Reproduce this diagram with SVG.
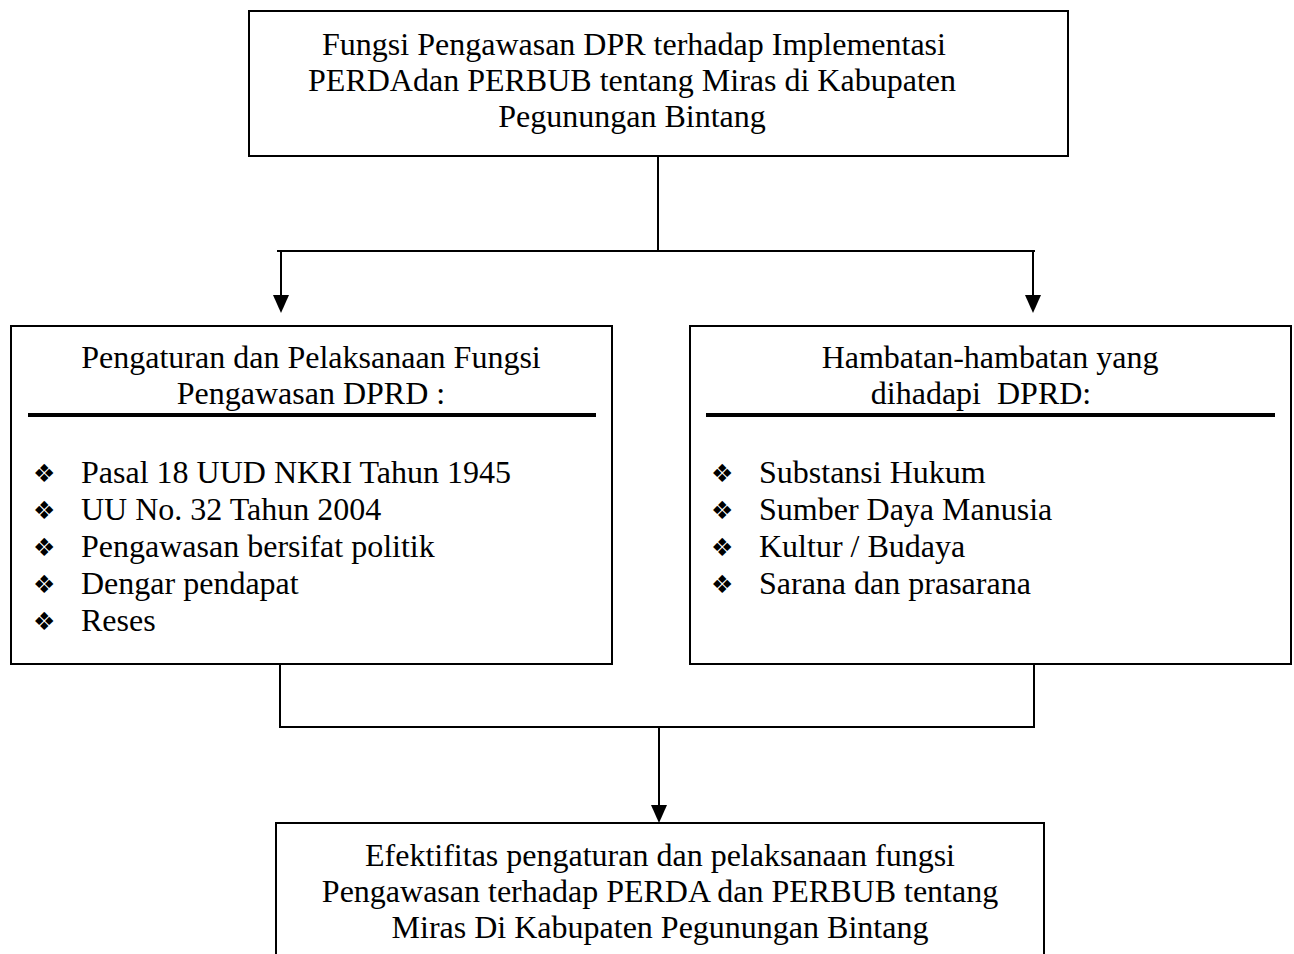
<svg xmlns="http://www.w3.org/2000/svg" width="1294" height="954" viewBox="0 0 1294 954">
<style>
.box{fill:#fff;stroke:#000;stroke-width:2}
.t{font-family:"Liberation Serif","Times New Roman",serif;font-size:32px;fill:#000}
.c{text-anchor:middle}
.b{font-family:"DejaVu Sans",sans-serif;font-size:25px;fill:#000}
.ln{stroke:#000;stroke-width:2;fill:none}
.ul{stroke:#000;stroke-width:4}
</style>
<rect width="1294" height="954" fill="#fff"/>
<g id="connectors">
<line class="ln" x1="658" y1="156" x2="658" y2="251"/>
<line class="ln" x1="277" y1="251" x2="1035" y2="251"/>
<line class="ln" x1="281" y1="251" x2="281" y2="295"/>
<path d="M273,295 L289,295 L281,313 Z" fill="#000"/>
<line class="ln" x1="1033" y1="251" x2="1033" y2="295"/>
<path d="M1025,295 L1041,295 L1033,313 Z" fill="#000"/>
<line class="ln" x1="280" y1="665" x2="280" y2="727"/>
<line class="ln" x1="1034" y1="665" x2="1034" y2="727"/>
<line class="ln" x1="279" y1="727" x2="1035" y2="727"/>
<line class="ln" x1="659" y1="727" x2="659" y2="805"/>
<path d="M651,805 L667,805 L659,823 Z" fill="#000"/>
</g>
<g id="top">
<rect class="box" x="249" y="11" width="819" height="145"/>
<text class="t c" x="634" y="55">Fungsi Pengawasan DPR terhadap Implementasi</text>
<text class="t c" x="632" y="91">PERDAdan PERBUB tentang Miras di Kabupaten</text>
<text class="t c" x="632" y="127">Pegunungan Bintang</text>
</g>
<g id="left">
<rect class="box" x="11" y="326" width="601" height="338"/>
<text class="t c" x="311" y="368">Pengaturan dan Pelaksanaan Fungsi</text>
<text class="t c" x="311" y="404">Pengawasan DPRD :</text>
<line class="ul" x1="28" y1="415" x2="596" y2="415"/>
<text class="b" x="33" y="482">❖</text>
<text class="t" x="81" y="483">Pasal 18 UUD NKRI Tahun 1945</text>
<text class="b" x="33" y="519">❖</text>
<text class="t" x="81" y="520">UU No. 32 Tahun 2004</text>
<text class="b" x="33" y="556">❖</text>
<text class="t" x="81" y="557">Pengawasan bersifat politik</text>
<text class="b" x="33" y="593">❖</text>
<text class="t" x="81" y="594">Dengar pendapat</text>
<text class="b" x="33" y="630">❖</text>
<text class="t" x="81" y="631">Reses</text>
</g>
<g id="right">
<rect class="box" x="690" y="326" width="601" height="338"/>
<text class="t c" x="990" y="368">Hambatan-hambatan yang</text>
<text class="t c" x="981" y="404" xml:space="preserve">dihadapi  DPRD:</text>
<line class="ul" x1="706" y1="415" x2="1275" y2="415"/>
<text class="b" x="711" y="482">❖</text>
<text class="t" x="759" y="483">Substansi Hukum</text>
<text class="b" x="711" y="519">❖</text>
<text class="t" x="759" y="520">Sumber Daya Manusia</text>
<text class="b" x="711" y="556">❖</text>
<text class="t" x="759" y="557">Kultur / Budaya</text>
<text class="b" x="711" y="593">❖</text>
<text class="t" x="759" y="594">Sarana dan prasarana</text>
</g>
<g id="bottom">
<rect class="box" x="276" y="823" width="768" height="140"/>
<text class="t c" x="660" y="866">Efektifitas pengaturan dan pelaksanaan fungsi</text>
<text class="t c" x="660" y="902">Pengawasan terhadap PERDA dan PERBUB tentang</text>
<text class="t c" x="660" y="938">Miras Di Kabupaten Pegunungan Bintang</text>
</g>
</svg>
